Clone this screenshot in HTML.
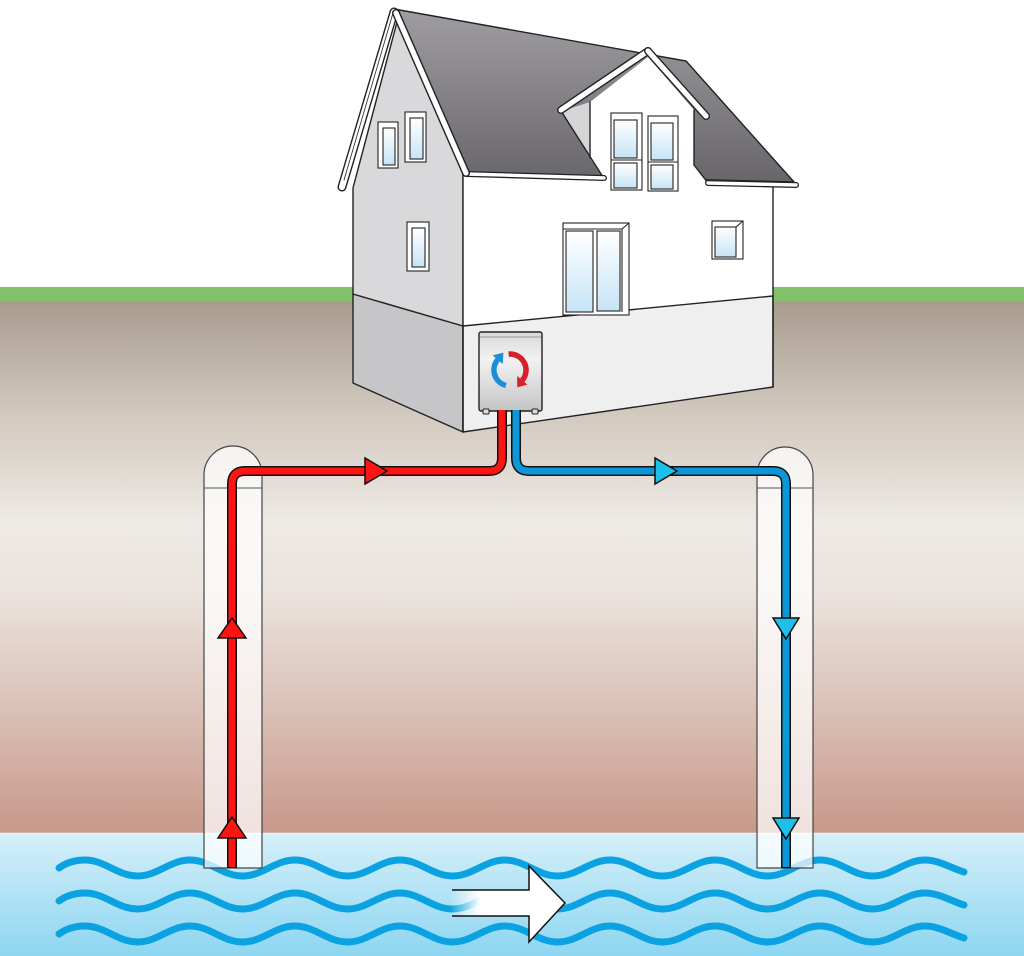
<!DOCTYPE html>
<html><head><meta charset="utf-8"><style>html,body{margin:0;padding:0;background:#fff}svg{display:block}</style></head>
<body>
<svg width="1024" height="956" viewBox="0 0 1024 956" xmlns="http://www.w3.org/2000/svg">
<defs>
<linearGradient id="soil" x1="0" y1="300" x2="0" y2="833" gradientUnits="userSpaceOnUse">
<stop offset="0" stop-color="#a89b8e"/>
<stop offset="0.22" stop-color="#d3cac0"/>
<stop offset="0.42" stop-color="#eeeae5"/>
<stop offset="0.55" stop-color="#ebe3de"/>
<stop offset="0.78" stop-color="#d9beb3"/>
<stop offset="1" stop-color="#c8988a"/>
</linearGradient>
<linearGradient id="water" x1="0" y1="833" x2="0" y2="956" gradientUnits="userSpaceOnUse">
<stop offset="0" stop-color="#d6eff9"/>
<stop offset="1" stop-color="#8dd6f1"/>
</linearGradient>
<linearGradient id="roof" x1="0" y1="10" x2="0" y2="185" gradientUnits="userSpaceOnUse">
<stop offset="0" stop-color="#a09da2"/>
<stop offset="1" stop-color="#67656a"/>
</linearGradient>
<linearGradient id="glass" x1="0" y1="0" x2="0" y2="1">
<stop offset="0" stop-color="#ffffff"/>
<stop offset="1" stop-color="#c6e4f6"/>
</linearGradient>
<linearGradient id="box" x1="0" y1="0" x2="0" y2="1">
<stop offset="0" stop-color="#d8d8d8"/>
<stop offset="0.35" stop-color="#f2f2f2"/>
<stop offset="1" stop-color="#c4c4c4"/>
</linearGradient>
<linearGradient id="arrowfill" x1="450" y1="0" x2="480" y2="0" gradientUnits="userSpaceOnUse">
<stop offset="0" stop-color="#ffffff" stop-opacity="0"/>
<stop offset="1" stop-color="#ffffff" stop-opacity="1"/>
</linearGradient>
<path id="wave" d="M59,0 Q70,-8 85,-8 c20,0 32.5,16 52.5,16 c20,0 32.5,-16 52.5,-16 c20,0 32.5,16 52.5,16 c20,0 32.5,-16 52.5,-16 c20,0 32.5,16 52.5,16 c20,0 32.5,-16 52.5,-16 c20,0 32.5,16 52.5,16 c20,0 32.5,-16 52.5,-16 c20,0 32.5,16 52.5,16 c20,0 32.5,-16 52.5,-16 c20,0 32.5,16 52.5,16 c20,0 32.5,-16 52.5,-16 c20,0 32.5,16 52.5,16 c20,0 32.5,-16 52.5,-16 c20,0 32.5,16 52.5,16 c20,0 32.5,-16 52.5,-16 c14,0 26,8 39,12" fill="none" stroke="#0ba2e2" stroke-width="7" stroke-linecap="round"/>
</defs>

<!-- background -->
<rect x="0" y="0" width="1024" height="956" fill="#ffffff"/>
<rect x="0" y="287" width="1024" height="14" fill="#82c06a"/>
<rect x="0" y="301" width="1024" height="532" fill="url(#soil)"/>
<rect x="0" y="833" width="1024" height="123" fill="url(#water)"/>
<line x1="0" y1="833.5" x2="1024" y2="833.5" stroke="#e8f6fc" stroke-width="1.5"/>

<!-- waves -->
<use href="#wave" transform="translate(0,868)"/>
<use href="#wave" transform="translate(0,901)"/>
<use href="#wave" transform="translate(0,934)"/>

<!-- flow arrow -->
<polygon points="450,890 529,890 529,866 565,903 529,942 529,916 450,916" fill="url(#arrowfill)"/>
<polyline points="452,890 529,890 529,866 565,903 529,942 529,916 452,916" fill="none" stroke="#111" stroke-width="1.5" stroke-linejoin="miter"/>

<!-- boreholes -->
<path d="M204,868 L204,475 A29,29 0 0 1 262,475 L262,868 Z" fill="#ffffff" fill-opacity="0.72" stroke="#444" stroke-width="1.2"/>
<line x1="204" y1="488" x2="262" y2="488" stroke="#555" stroke-width="1"/>
<path d="M757,868 L757,475 A28,28 0 0 1 813,475 L813,868 Z" fill="#ffffff" fill-opacity="0.72" stroke="#444" stroke-width="1.2"/>
<line x1="757" y1="488" x2="813" y2="488" stroke="#555" stroke-width="1"/>

<!-- HOUSE -->
<g stroke="#222" stroke-width="1.4" stroke-linejoin="round">
<polygon points="353,294 463,326 463,432 353,383" fill="#c6c6c9"/>
<polygon points="397,22 463,174 463,326 353,294 353,188" fill="#d9d9dc"/>
<polygon points="394,9 686,61 794,182 466,174" fill="url(#roof)"/>
</g>
<polygon points="463,174 773,184 773,296 463,326" fill="#ffffff"/>
<polygon points="463,326 773,296 773,387 463,432" fill="#efefef" stroke="#222" stroke-width="1.4" stroke-linejoin="round"/>
<polygon points="562,111 590,102 590,158" fill="#d5d5d8"/>
<polygon points="590,102 648,57 694,110 694,165 708,184 604,184 604,178 590,158" fill="#ffffff"/>
<g stroke="#222" stroke-width="1.4" fill="none" stroke-linecap="round">
<line x1="590" y1="102" x2="590" y2="158"/>
<polyline points="694,110 694,165 708,183"/>
<line x1="561" y1="111" x2="603" y2="177"/>
<line x1="463" y1="174" x2="463" y2="432"/>
<line x1="773" y1="184" x2="773" y2="387"/>
</g>

<!-- gutters & barges -->
<g stroke-linecap="round" fill="none">
<line x1="467" y1="174" x2="604" y2="178" stroke="#222" stroke-width="6"/>
<line x1="467" y1="174" x2="604" y2="178" stroke="#fff" stroke-width="3.4"/>
<line x1="708" y1="183" x2="796" y2="185" stroke="#222" stroke-width="6"/>
<line x1="708" y1="183" x2="796" y2="185" stroke="#fff" stroke-width="3.4"/>
<line x1="394" y1="12" x2="342" y2="187" stroke="#222" stroke-width="9"/>
<line x1="394" y1="12" x2="342" y2="187" stroke="#fff" stroke-width="6.2"/>
<line x1="393" y1="13" x2="344" y2="180" stroke="#222" stroke-width="0.8"/>
<line x1="396" y1="13" x2="466" y2="173" stroke="#222" stroke-width="8"/>
<line x1="396" y1="13" x2="466" y2="173" stroke="#fff" stroke-width="5.2"/>
<line x1="648" y1="51" x2="561" y2="110" stroke="#222" stroke-width="8"/>
<line x1="648" y1="51" x2="561" y2="110" stroke="#fff" stroke-width="5.2"/>
<line x1="648" y1="51" x2="706" y2="116" stroke="#222" stroke-width="8"/>
<line x1="648" y1="51" x2="706" y2="116" stroke="#fff" stroke-width="5.2"/>
</g>

<!-- windows -->
<g stroke="#222" stroke-width="1.1">
<rect x="378" y="122" width="20" height="46" fill="#fff"/>
<rect x="383" y="128" width="12" height="37" fill="url(#glass)"/>
<rect x="405" y="112" width="21" height="50" fill="#fff"/>
<rect x="410" y="118" width="13" height="41" fill="url(#glass)"/>
<rect x="407" y="222" width="22" height="49" fill="#fff"/>
<rect x="412" y="228" width="13" height="39" fill="url(#glass)"/>
<rect x="611" y="113" width="31" height="77" fill="#fff"/>
<rect x="614" y="120" width="23" height="38" fill="url(#glass)"/>
<rect x="614" y="163" width="23" height="25" fill="url(#glass)"/>
<line x1="611" y1="160" x2="642" y2="160"/>
<rect x="648" y="116" width="30" height="75" fill="#fff"/>
<rect x="651" y="123" width="22" height="37" fill="url(#glass)"/>
<rect x="651" y="165" width="22" height="24" fill="url(#glass)"/>
<line x1="648" y1="162" x2="678" y2="162"/>
<rect x="563" y="223" width="66" height="92" fill="#fff"/>
<rect x="566" y="231" width="27" height="81" fill="url(#glass)"/>
<rect x="597" y="231" width="23" height="80" fill="url(#glass)"/>
<line x1="563" y1="229" x2="622" y2="229"/>
<line x1="622" y1="229" x2="629" y2="223"/>
<line x1="622" y1="229" x2="622" y2="312"/>
<rect x="712" y="221" width="31" height="38" fill="#fff"/>
<rect x="715" y="227" width="21" height="30" fill="url(#glass)"/>
<line x1="736" y1="227" x2="743" y2="221"/>
</g>

<!-- heat pump box -->
<rect x="479" y="332" width="63" height="79" rx="2" fill="url(#box)" stroke="#222" stroke-width="1.4"/>
<line x1="480" y1="337" x2="541" y2="337" stroke="#999" stroke-width="1"/>
<rect x="483" y="409" width="6" height="5" rx="1" fill="#ddd" stroke="#222" stroke-width="1"/>
<rect x="532" y="409" width="6" height="5" rx="1" fill="#ddd" stroke="#222" stroke-width="1"/>
<path d="M508.6,354.1 A16,16 0 0 1 522.3,380.3" fill="none" stroke="#d8202a" stroke-width="5.5"/>
<polygon points="517.2,387.4 527.4,384.6 517.2,376" fill="#d8202a"/>
<path d="M505.9,385.5 A16,16 0 0 1 497.7,359.7" fill="none" stroke="#1a8fd6" stroke-width="5.5"/>
<polygon points="503.4,352.6 492.6,355.4 502.8,364" fill="#1a8fd6"/>

<!-- pipes -->
<g fill="none" stroke-linejoin="round">
<path d="M502,410 V458 Q502,471 489,471 H245 Q232,471 232,484 V868" stroke="#111" stroke-width="10"/>
<path d="M502,410 V458 Q502,471 489,471 H245 Q232,471 232,484 V867" stroke="#ff1414" stroke-width="7"/>
<path d="M516,410 V458 Q516,471 529,471 H773 Q786,471 786,484 V868" stroke="#111" stroke-width="10"/>
<path d="M516,410 V458 Q516,471 529,471 H773 Q786,471 786,484 V867" stroke="#0b97d8" stroke-width="7"/>
</g>

<!-- flow arrows -->
<g stroke="#111" stroke-width="1.5" stroke-linejoin="miter">
<polygon points="365,458 365,484 387,471" fill="#ff1414"/>
<polygon points="655,458 655,484 677,471" fill="#1cc0e8"/>
<polygon points="218,638 246,638 232,618" fill="#ff1414"/>
<polygon points="218,838 246,838 232,817" fill="#ff1414"/>
<polygon points="773,618 799,618 786,639" fill="#1cc0e8"/>
<polygon points="773,818 799,818 786,839" fill="#1cc0e8"/>
</g>
</svg>
</body></html>
